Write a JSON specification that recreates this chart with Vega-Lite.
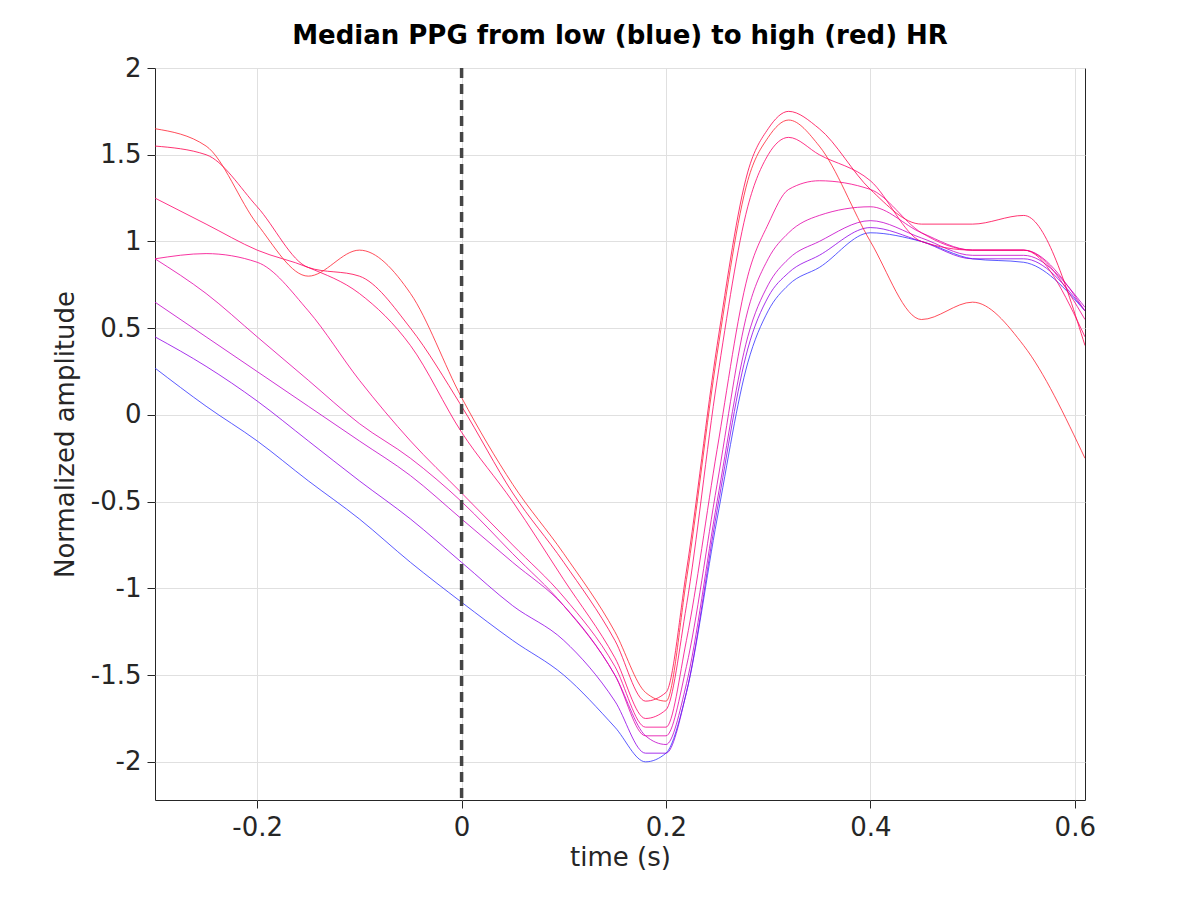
{
  "$schema": "https://vega.github.io/schema/vega-lite/v6.json",
  "autosize": "none",
  "padding": {"left": 155, "top": 68, "right": 115, "bottom": 100},
  "width": 930,
  "height": 732,
  "background": "white",
  "title": {"text": "Median PPG from low (blue) to high (red) HR", "fontSize": 26, "font": "DejaVu Sans", "fontWeight": "bold", "offset": 6, "color": "black"},
  "datasets": {
    "curves": [
      {"hr":0,"t":-0.3,"y":0.27},{"hr":0,"t":-0.25,"y":0.05},{"hr":0,"t":-0.2,"y":-0.15},{"hr":0,"t":-0.15,"y":-0.38},{"hr":0,"t":-0.1,"y":-0.6},{"hr":0,"t":-0.05,"y":-0.85},{"hr":0,"t":0,"y":-1.08},{"hr":0,"t":0.05,"y":-1.3},{"hr":0,"t":0.1,"y":-1.5},{"hr":0,"t":0.15,"y":-1.8},{"hr":0,"t":0.18,"y":-2.0},{"hr":0,"t":0.2,"y":-1.95},{"hr":0,"t":0.22,"y":-1.6},{"hr":0,"t":0.25,"y":-0.6},{"hr":0,"t":0.28,"y":0.3},{"hr":0,"t":0.3,"y":0.6},{"hr":0,"t":0.32,"y":0.75},{"hr":0,"t":0.35,"y":0.85},{"hr":0,"t":0.4,"y":1.05},{"hr":0,"t":0.45,"y":1.0},{"hr":0,"t":0.5,"y":0.9},{"hr":0,"t":0.55,"y":0.88},{"hr":0,"t":0.61,"y":0.6},
      {"hr":1,"t":-0.3,"y":0.45},{"hr":1,"t":-0.25,"y":0.28},{"hr":1,"t":-0.2,"y":0.08},{"hr":1,"t":-0.15,"y":-0.15},{"hr":1,"t":-0.1,"y":-0.38},{"hr":1,"t":-0.05,"y":-0.6},{"hr":1,"t":0,"y":-0.85},{"hr":1,"t":0.05,"y":-1.1},{"hr":1,"t":0.1,"y":-1.3},{"hr":1,"t":0.15,"y":-1.65},{"hr":1,"t":0.18,"y":-1.95},{"hr":1,"t":0.2,"y":-1.95},{"hr":1,"t":0.22,"y":-1.6},{"hr":1,"t":0.25,"y":-0.55},{"hr":1,"t":0.28,"y":0.38},{"hr":1,"t":0.3,"y":0.68},{"hr":1,"t":0.32,"y":0.82},{"hr":1,"t":0.35,"y":0.92},{"hr":1,"t":0.4,"y":1.08},{"hr":1,"t":0.45,"y":1.0},{"hr":1,"t":0.5,"y":0.9},{"hr":1,"t":0.55,"y":0.9},{"hr":1,"t":0.61,"y":0.6},
      {"hr":2,"t":-0.3,"y":0.65},{"hr":2,"t":-0.25,"y":0.45},{"hr":2,"t":-0.2,"y":0.25},{"hr":2,"t":-0.15,"y":0.05},{"hr":2,"t":-0.1,"y":-0.15},{"hr":2,"t":-0.05,"y":-0.35},{"hr":2,"t":0,"y":-0.6},{"hr":2,"t":0.05,"y":-0.85},{"hr":2,"t":0.1,"y":-1.1},{"hr":2,"t":0.15,"y":-1.5},{"hr":2,"t":0.18,"y":-1.85},{"hr":2,"t":0.2,"y":-1.9},{"hr":2,"t":0.22,"y":-1.55},{"hr":2,"t":0.25,"y":-0.5},{"hr":2,"t":0.28,"y":0.45},{"hr":2,"t":0.3,"y":0.75},{"hr":2,"t":0.32,"y":0.9},{"hr":2,"t":0.35,"y":1.0},{"hr":2,"t":0.4,"y":1.12},{"hr":2,"t":0.45,"y":1.02},{"hr":2,"t":0.5,"y":0.92},{"hr":2,"t":0.55,"y":0.92},{"hr":2,"t":0.61,"y":0.62},
      {"hr":3,"t":-0.3,"y":0.9},{"hr":3,"t":-0.25,"y":0.7},{"hr":3,"t":-0.2,"y":0.45},{"hr":3,"t":-0.15,"y":0.2},{"hr":3,"t":-0.1,"y":-0.05},{"hr":3,"t":-0.05,"y":-0.25},{"hr":3,"t":0,"y":-0.5},{"hr":3,"t":0.05,"y":-0.8},{"hr":3,"t":0.1,"y":-1.1},{"hr":3,"t":0.15,"y":-1.5},{"hr":3,"t":0.18,"y":-1.85},{"hr":3,"t":0.2,"y":-1.85},{"hr":3,"t":0.22,"y":-1.45},{"hr":3,"t":0.25,"y":-0.4},{"hr":3,"t":0.28,"y":0.6},{"hr":3,"t":0.3,"y":0.9},{"hr":3,"t":0.32,"y":1.05},{"hr":3,"t":0.35,"y":1.15},{"hr":3,"t":0.4,"y":1.2},{"hr":3,"t":0.45,"y":1.05},{"hr":3,"t":0.5,"y":0.95},{"hr":3,"t":0.55,"y":0.95},{"hr":3,"t":0.61,"y":0.6},
      {"hr":4,"t":-0.3,"y":0.9},{"hr":4,"t":-0.25,"y":0.93},{"hr":4,"t":-0.2,"y":0.88},{"hr":4,"t":-0.15,"y":0.6},{"hr":4,"t":-0.1,"y":0.2},{"hr":4,"t":-0.05,"y":-0.15},{"hr":4,"t":0,"y":-0.45},{"hr":4,"t":0.05,"y":-0.75},{"hr":4,"t":0.1,"y":-1.05},{"hr":4,"t":0.15,"y":-1.45},{"hr":4,"t":0.18,"y":-1.8},{"hr":4,"t":0.2,"y":-1.8},{"hr":4,"t":0.22,"y":-1.3},{"hr":4,"t":0.25,"y":-0.2},{"hr":4,"t":0.28,"y":0.8},{"hr":4,"t":0.3,"y":1.1},{"hr":4,"t":0.32,"y":1.3},{"hr":4,"t":0.35,"y":1.35},{"hr":4,"t":0.4,"y":1.3},{"hr":4,"t":0.45,"y":1.05},{"hr":4,"t":0.5,"y":0.95},{"hr":4,"t":0.55,"y":0.95},{"hr":4,"t":0.61,"y":0.55},
      {"hr":5,"t":-0.3,"y":1.25},{"hr":5,"t":-0.25,"y":1.1},{"hr":5,"t":-0.2,"y":0.95},{"hr":5,"t":-0.15,"y":0.85},{"hr":5,"t":-0.1,"y":0.7},{"hr":5,"t":-0.05,"y":0.4},{"hr":5,"t":0,"y":-0.1},{"hr":5,"t":0.05,"y":-0.5},{"hr":5,"t":0.1,"y":-0.95},{"hr":5,"t":0.15,"y":-1.4},{"hr":5,"t":0.18,"y":-1.75},{"hr":5,"t":0.2,"y":-1.7},{"hr":5,"t":0.22,"y":-1.1},{"hr":5,"t":0.25,"y":0.2},{"hr":5,"t":0.28,"y":1.2},{"hr":5,"t":0.3,"y":1.5},{"hr":5,"t":0.32,"y":1.6},{"hr":5,"t":0.35,"y":1.5},{"hr":5,"t":0.4,"y":1.35},{"hr":5,"t":0.45,"y":1.0},{"hr":5,"t":0.5,"y":0.95},{"hr":5,"t":0.55,"y":0.95},{"hr":5,"t":0.61,"y":0.45},
      {"hr":6,"t":-0.3,"y":1.55},{"hr":6,"t":-0.25,"y":1.5},{"hr":6,"t":-0.2,"y":1.2},{"hr":6,"t":-0.15,"y":0.85},{"hr":6,"t":-0.1,"y":0.8},{"hr":6,"t":-0.05,"y":0.5},{"hr":6,"t":0,"y":0.05},{"hr":6,"t":0.05,"y":-0.45},{"hr":6,"t":0.1,"y":-0.85},{"hr":6,"t":0.15,"y":-1.3},{"hr":6,"t":0.18,"y":-1.65},{"hr":6,"t":0.2,"y":-1.6},{"hr":6,"t":0.22,"y":-0.9},{"hr":6,"t":0.25,"y":0.4},{"hr":6,"t":0.28,"y":1.4},{"hr":6,"t":0.3,"y":1.65},{"hr":6,"t":0.32,"y":1.75},{"hr":6,"t":0.35,"y":1.65},{"hr":6,"t":0.4,"y":1.3},{"hr":6,"t":0.45,"y":1.1},{"hr":6,"t":0.5,"y":1.1},{"hr":6,"t":0.55,"y":1.15},{"hr":6,"t":0.61,"y":0.4},
      {"hr":7,"t":-0.3,"y":1.65},{"hr":7,"t":-0.25,"y":1.55},{"hr":7,"t":-0.2,"y":1.1},{"hr":7,"t":-0.15,"y":0.8},{"hr":7,"t":-0.1,"y":0.95},{"hr":7,"t":-0.05,"y":0.7},{"hr":7,"t":0,"y":0.1},{"hr":7,"t":0.05,"y":-0.4},{"hr":7,"t":0.1,"y":-0.8},{"hr":7,"t":0.15,"y":-1.25},{"hr":7,"t":0.18,"y":-1.6},{"hr":7,"t":0.2,"y":-1.65},{"hr":7,"t":0.22,"y":-0.95},{"hr":7,"t":0.25,"y":0.35},{"hr":7,"t":0.28,"y":1.35},{"hr":7,"t":0.3,"y":1.6},{"hr":7,"t":0.32,"y":1.7},{"hr":7,"t":0.35,"y":1.55},{"hr":7,"t":0.4,"y":1.0},{"hr":7,"t":0.45,"y":0.55},{"hr":7,"t":0.5,"y":0.65},{"hr":7,"t":0.55,"y":0.4},{"hr":7,"t":0.61,"y":-0.25}
    ],
    "zero": [{"t": 0}]
  },
  "layer": [
    {
      "data": {"name": "curves"},
      "mark": {"type": "line", "interpolate": "monotone", "strokeWidth": 0.8, "clip": true},
      "encoding": {
        "x": {"field": "t", "type": "quantitative", "scale": {"domain": [-0.3, 0.61], "nice": false},
          "axis": {"values": [-0.2, 0, 0.2, 0.4, 0.6], "title": "time (s)", "labelExpr": "replace(format(datum.value, '~g'), '−', '-')"}},
        "y": {"field": "y", "type": "quantitative", "scale": {"domain": [-2.22, 2], "nice": false},
          "axis": {"values": [-2, -1.5, -1, -0.5, 0, 0.5, 1, 1.5, 2], "title": "Normalized amplitude", "labelExpr": "replace(format(datum.value, '~g'), '−', '-')"}},
        "detail": {"field": "hr", "type": "nominal"},
        "color": {"field": "hr", "type": "quantitative", "scale": {"domain": [0, 7], "range": ["#3030ff", "#ff2030"]}, "legend": null}
      }
    },
    {
      "data": {"name": "zero"},
      "mark": {"type": "rule", "strokeDash": [10, 6], "strokeWidth": 3.5, "color": "#444444"},
      "encoding": {"x": {"field": "t", "type": "quantitative"}}
    }
  ],
  "config": {
    "view": {"stroke": "#262626", "strokeWidth": 1},
    "axis": {"labelFont": "DejaVu Sans", "titleFont": "DejaVu Sans", "labelFontSize": 26, "titleFontSize": 26, "titleFontWeight": "normal",
      "labelColor": "#262626", "titleColor": "#262626", "gridColor": "#e0e0e0", "domain": false, "tickColor": "#262626", "tickSize": 8, "labelPadding": 6},
    "axisX": {"titlePadding": 4},
    "axisY": {"titlePadding": 12}
  }
}
